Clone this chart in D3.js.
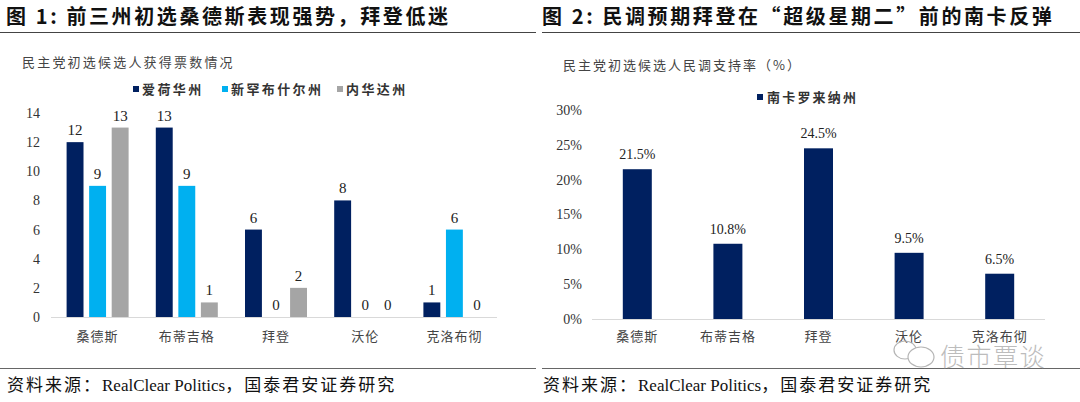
<!DOCTYPE html>
<html>
<head>
<meta charset="utf-8">
<script src="https://cdn.jsdelivr.net/npm/d3@7"></script>
<style>
  body { margin: 0; background: #fff; }
  svg { display: block; }
</style>
</head>
<body>
<svg id="chart" width="1080" height="402"></svg>
<script>
// chart 1: delegates won in the first three states
const candidates = ["桑德斯", "布蒂吉格", "拜登", "沃伦", "克洛布彻"];
const states = ["爱荷华州", "新罕布什尔州", "内华达州"];
const iowa = [12, 13, 6, 8, 1];
const newHampshire = [9, 9, 0, 0, 6];
const nevada = [13, 1, 2, 0, 0];
const voteTicks = [0, 2, 4, 6, 8, 10, 12, 14];

// chart 2: South Carolina polling
const pollSeries = "南卡罗来纳州";
const southCarolina = [21.5, 10.8, 24.5, 9.5, 6.5];
const pollTicks = [0, 5, 10, 15, 20, 25, 30];

const serif = "'Liberation Serif', 'Times New Roman', serif";
const cjk = "'Noto Sans CJK SC', sans-serif";
const colors = ["#002060", "#00b0f0", "#a5a5a5"];

const svg = d3.select("#chart");

// headers and footers
const titles = [
  { x: 6, text: "图 1:  前三州初选桑德斯表现强势，拜登低迷" },
  { x: 542, text: "图 2:  民调预期拜登在“超级星期二”前的南卡反弹" }
];
titles.forEach(t => {
  svg.append("text")
    .attr("x", t.x).attr("y", 24)
    .attr("font-family", cjk)
    .attr("font-weight", 700)
    .attr("font-size", 20)
    .attr("letter-spacing", 2.6)
    .attr("fill", "#111")
    .text(t.text);
  const src = svg.append("text")
    .attr("x", t.x + 1).attr("y", 391)
    .attr("font-family", serif + ", " + cjk)
    .attr("font-size", 17)
    .attr("fill", "#111");
  src.append("tspan").attr("letter-spacing", 2).text("资料来源：");
  src.append("tspan").attr("letter-spacing", 0).text("RealClear Politics");
  src.append("tspan").attr("letter-spacing", 2).text("，国泰君安证券研究");
});
[[0, 536], [542, 1080]].forEach(([a, b]) => {
  svg.append("line").attr("x1", a).attr("x2", b).attr("y1", 32.5).attr("y2", 32.5)
    .attr("stroke", "#444").attr("stroke-width", 1);
  svg.append("line").attr("x1", a).attr("x2", b).attr("y1", 368.5).attr("y2", 368.5)
    .attr("stroke", "#666").attr("stroke-width", 1);
});

// left chart
const x1 = d3.scaleBand().domain(candidates).range([53, 499]);
const y1 = d3.scaleLinear().domain([0, 14]).range([317, 113]);
const sub1 = d3.scaleBand().domain(states).range([-31, 31]).paddingInner(0.25);

svg.append("text")
  .attr("x", 22).attr("y", 67)
  .attr("font-family", cjk).attr("font-size", 13).attr("letter-spacing", 2.2)
  .attr("fill", "#444")
  .text("民主党初选候选人获得票数情况");

const legend1 = svg.append("g").attr("font-family", cjk).attr("font-size", 13)
  .attr("font-weight", 700).attr("letter-spacing", 2.4).attr("fill", "#333");
const legendX = [133, 222, 337];
states.forEach((s, i) => {
  legend1.append("rect").attr("x", legendX[i]).attr("y", 86).attr("width", 6).attr("height", 6)
    .attr("fill", colors[i]);
  legend1.append("text").attr("x", legendX[i] + 9).attr("y", 94).text(s);
});

svg.append("g")
  .attr("transform", "translate(40,0)")
  .call(d3.axisLeft(y1).tickValues(voteTicks).tickSize(0).tickPadding(0))
  .call(g => g.select(".domain").remove())
  .call(g => g.selectAll("text").attr("font-family", serif).attr("font-size", 14).attr("fill", "#333"));

svg.append("line").attr("x1", 51).attr("x2", 497).attr("y1", 317.5).attr("y2", 317.5)
  .attr("stroke", "#d9d9d9");

const series1 = [iowa, newHampshire, nevada];
series1.forEach((vals, si) => {
  const g = svg.append("g");
  g.selectAll("rect").data(vals).join("rect")
    .attr("x", (d, i) => x1(candidates[i]) + x1.bandwidth() / 2 + sub1(states[si]))
    .attr("y", d => y1(d))
    .attr("width", sub1.bandwidth())
    .attr("height", d => y1(0) - y1(d))
    .attr("fill", colors[si]);
  g.selectAll("text").data(vals).join("text")
    .attr("x", (d, i) => x1(candidates[i]) + x1.bandwidth() / 2 + sub1(states[si]) + sub1.bandwidth() / 2)
    .attr("y", d => y1(d) - 7)
    .attr("text-anchor", "middle")
    .attr("font-family", serif).attr("font-size", 15).attr("fill", "#222")
    .text(d => d);
});

svg.append("g").selectAll("text").data(candidates).join("text")
  .attr("x", d => x1(d) + x1.bandwidth() / 2)
  .attr("y", 341)
  .attr("text-anchor", "middle")
  .attr("font-family", cjk).attr("font-size", 13).attr("letter-spacing", 1)
  .attr("fill", "#444")
  .text(d => d);

// right chart
const x2 = d3.scaleBand().domain(candidates).range([592, 1045]).paddingInner(0.68).paddingOuter(0.34);
const y2 = d3.scaleLinear().domain([0, 30]).range([319, 110]);

svg.append("text")
  .attr("x", 563).attr("y", 70)
  .attr("font-family", cjk).attr("font-size", 13).attr("letter-spacing", 2)
  .attr("fill", "#444")
  .text("民主党初选候选人民调支持率（%）");

svg.append("rect").attr("x", 757).attr("y", 94).attr("width", 6).attr("height", 6).attr("fill", colors[0]);
svg.append("text").attr("x", 767).attr("y", 102)
  .attr("font-family", cjk).attr("font-size", 13).attr("font-weight", 700).attr("letter-spacing", 2.2)
  .attr("fill", "#333").text(pollSeries);

svg.append("g")
  .attr("transform", "translate(582,0)")
  .call(d3.axisLeft(y2).tickValues(pollTicks).tickSize(0).tickPadding(0).tickFormat(d => d + "%"))
  .call(g => g.select(".domain").remove())
  .call(g => g.selectAll("text").attr("font-family", serif).attr("font-size", 14).attr("fill", "#333"));

svg.append("line").attr("x1", 592).attr("x2", 1045).attr("y1", 319.5).attr("y2", 319.5)
  .attr("stroke", "#d9d9d9");

svg.append("g").selectAll("rect").data(southCarolina).join("rect")
  .attr("x", (d, i) => x2(candidates[i]))
  .attr("y", d => y2(d))
  .attr("width", x2.bandwidth())
  .attr("height", d => y2(0) - y2(d))
  .attr("fill", colors[0]);

svg.append("g").selectAll("text").data(southCarolina).join("text")
  .attr("x", (d, i) => x2(candidates[i]) + x2.bandwidth() / 2)
  .attr("y", d => y2(d) - 10)
  .attr("text-anchor", "middle")
  .attr("font-family", serif).attr("font-size", 14).attr("fill", "#222")
  .text(d => d.toFixed(1) + "%");

svg.append("g").selectAll("text").data(candidates).join("text")
  .attr("x", d => x2(d) + x2.bandwidth() / 2)
  .attr("y", 341)
  .attr("text-anchor", "middle")
  .attr("font-family", cjk).attr("font-size", 13).attr("letter-spacing", 1)
  .attr("fill", "#444")
  .text(d => d);

// watermark
const wm = svg.append("g").attr("fill", "none").attr("stroke", "#b5b5b5").attr("stroke-width", 1.2);
wm.append("ellipse").attr("cx", 905).attr("cy", 350).attr("rx", 11).attr("ry", 9);
wm.append("ellipse").attr("cx", 921).attr("cy", 357).attr("rx", 13).attr("ry", 10).attr("fill", "#fff");
svg.append("text").attr("x", 940).attr("y", 366)
  .attr("font-family", cjk).attr("font-size", 25).attr("font-weight", 300).attr("letter-spacing", 1.5)
  .attr("fill", "#bcbcbc").text("债市覃谈");
</script>
</body>
</html>
